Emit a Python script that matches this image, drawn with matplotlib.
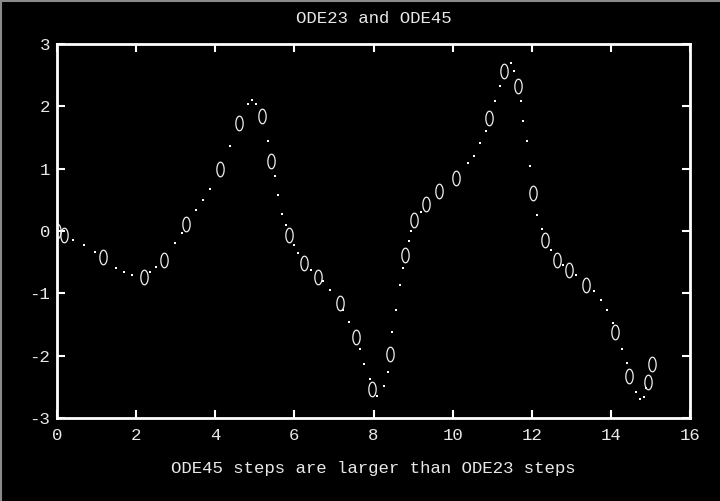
import numpy as np
import matplotlib
matplotlib.use("Agg")
import matplotlib.pyplot as plt
from matplotlib.path import Path
from matplotlib.lines import Line2D

# ODE45 steps (circles)
t45 = [0.0, 0.17, 1.16, 2.19, 2.71, 3.27, 4.13, 4.60, 5.18, 5.42, 5.86, 6.24, 6.59,
       7.15, 7.57, 7.97, 8.41, 8.79, 9.02, 9.33, 9.65, 10.09, 10.91, 11.30, 11.65,
       12.03, 12.33, 12.63, 12.95, 13.37, 14.11, 14.46, 14.94, 15.03]
y45 = [0.0, -0.06, -0.42, -0.74, -0.47, 0.12, 1.00, 1.73, 1.85, 1.13, -0.06, -0.51, -0.74,
       -1.16, -1.70, -2.53, -1.97, -0.39, 0.17, 0.43, 0.64, 0.85, 1.81, 2.56, 2.32,
       0.61, -0.15, -0.47, -0.63, -0.87, -1.62, -2.33, -2.42, -2.13]

# ODE23 steps (dots)
t23 = [0.0, 0.41, 0.69, 0.96, 1.49, 1.70, 1.89, 2.35, 2.51, 2.99, 3.16, 3.51, 3.69, 3.87,
       4.38, 4.82, 4.94, 5.03, 5.33, 5.52, 5.59, 5.69, 5.80, 5.98, 6.09, 6.41, 6.73, 6.91,
       7.23, 7.38, 7.65, 7.77, 7.90, 8.08, 8.26, 8.36, 8.47, 8.56, 8.66, 8.74, 8.89, 8.95,
       9.21, 10.39, 10.54, 10.68, 10.84, 11.06, 11.19, 11.47, 11.55, 11.72, 11.78, 11.87,
       11.95, 12.14, 12.25, 12.48, 12.78, 13.11, 13.57, 13.76, 13.91, 14.06, 14.29, 14.40,
       14.63, 14.74, 14.83, 14.89]
y23 = [0.0, -0.14, -0.22, -0.33, -0.60, -0.65, -0.71, -0.65, -0.57, -0.19, -0.04, 0.33, 0.49, 0.68,
       1.36, 2.04, 2.10, 2.04, 1.44, 0.89, 0.58, 0.28, 0.10, -0.22, -0.36, -0.63, -0.81, -0.95,
       -1.27, -1.46, -1.90, -2.13, -2.38, -2.64, -2.49, -2.26, -1.62, -1.26, -0.87, -0.59, -0.16, 0.00,
       0.30, 1.09, 1.20, 1.41, 1.61, 2.09, 2.32, 2.69, 2.57, 2.08, 1.77, 1.45,
       1.05, 0.26, 0.04, -0.30, -0.55, -0.71, -0.96, -1.10, -1.26, -1.47, -1.90, -2.12,
       -2.58, -2.70, -2.66, -2.52]

xticks = [0, 2, 4, 6, 8, 10, 12, 14, 16]
yticks = [-3, -2, -1, 0, 1, 2, 3]
title = "ODE23 and ODE45"
xlabel = "ODE45 steps are larger than ODE23 steps"

FONT = "Liberation Mono"
FS = 12.5
TXT = "#e8e8e8"

# tall ellipse marker like the old-screen 'o'
th = np.linspace(0, 2 * np.pi, 40)
ell = Path(np.column_stack([0.5 * np.cos(th), np.sin(th)]))

fig = plt.figure(figsize=(7.2, 5.01), dpi=100, facecolor="black")
ax = fig.add_axes([57 / 720, 1 - 418 / 501, 633 / 720, 374 / 501], facecolor="black")

ax.plot(t23, y23, linestyle="none", marker="s", markersize=1.6, color="white",
        markeredgewidth=0)
ax.plot(t45, y45, linestyle="none", marker=ell, markersize=10.5, markerfacecolor="none",
        markeredgecolor="#f0f0f0", markeredgewidth=0.9)

ax.set_xlim(0, 16)
ax.set_ylim(-3, 3)
ax.set_xticks(xticks)
ax.set_yticks(yticks)
ax.set_xticklabels([str(v) for v in xticks], fontfamily=FONT, fontsize=FS, color=TXT)
ax.set_yticklabels([str(v) for v in yticks], fontfamily=FONT, fontsize=FS, color=TXT)
ax.tick_params(axis="x", direction="in", length=6, width=1.5, color="white", top=True,
               pad=7)
ax.tick_params(axis="y", direction="in", length=6, width=1.5, color="white", right=True,
               pad=5)
for s in ax.spines.values():
    s.set_color("white")
    s.set_linewidth(2)

ax.set_title(title, fontfamily=FONT, fontsize=FS, color=TXT, pad=15)
ax.set_xlabel(xlabel, fontfamily=FONT, fontsize=FS, color=TXT, labelpad=13)

# thin grey frame at the top and left edges of the window
fig.add_artist(Line2D([0, 1], [0.999, 0.999], transform=fig.transFigure, color="#8a8a8a", lw=1.5))
fig.add_artist(Line2D([0.001, 0.001], [0, 1], transform=fig.transFigure, color="#8a8a8a", lw=1.5))

fig.savefig("out.png", dpi=100, facecolor="black")
